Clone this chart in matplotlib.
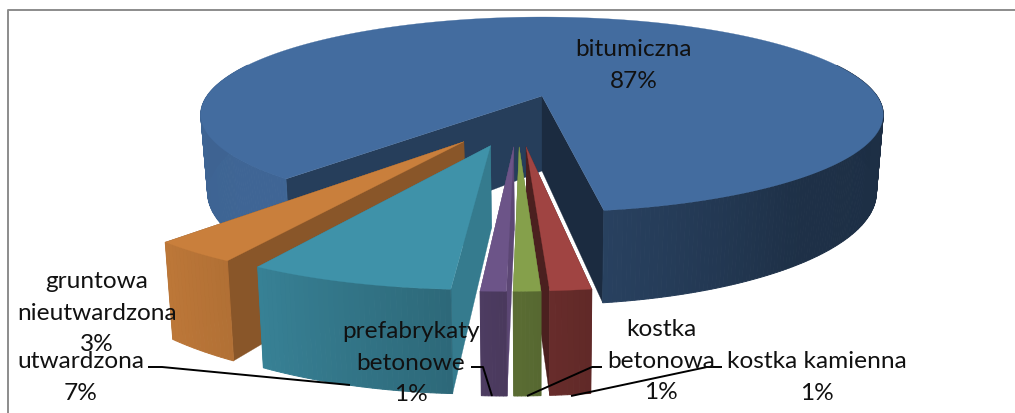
"""Exploded 3D pie chart of road surface types, drawn on a pixel-sized axes."""

import numpy as np
import matplotlib
matplotlib.use("Agg")
import matplotlib.pyplot as plt
from matplotlib.patches import Polygon

plt.rcParams["font.family"] = ["Lato", "DejaVu Sans"]

# ── Data (clockwise, starting with the largest slice) ─────────────────────────
categories = ["bitumiczna", "kostka kamienna", "kostka betonowa",
              "prefabrykaty betonowe", "utwardzona", "gruntowa nieutwardzona"]
values = [86.5, 1.45, 0.95, 0.9, 7.3, 3.2]
percent_labels = ["87%", "1%", "1%", "1%", "7%", "3%"]

# ── Projection of the pie ─────────────────────────────────────────────────────
START_ANGLE = 220.9
EXPLODE = 0.25
CX, CY = 542, 97     # where the tip of the first slice lands
RX, RY = 335, 94
PERSP = 0.19
DEPTH = 75
BOTTOM_SCALE = 0.98

TOP_COLORS = ["#436C9F", "#A04442", "#85A04B", "#6C5488", "#3F92A9", "#C97F3C"]
# shade of the cut faces at the start and end edge of every slice
START_SHADE = [0.57, 0.45, 0.70, 0.85, 0.84, 0.68]
END_SHADE = [0.40, 0.47, 0.70, 0.85, 0.84, 0.68]
DRAW_ORDER = [0, 5, 4, 3, 1, 2]

# shade of the outer rim as a function of the angle
RIM_ANGLES = [90, 140, 171, 180, 184, 209, 221, 270, 360]
RIM_SHADES = [0.42, 0.45, 0.60, 0.68, 0.72, 0.88, 0.94, 0.92, 0.92]


def ground(theta_deg, radius=1.0):
    t = np.radians(theta_deg)
    return radius * np.sin(t), radius * np.cos(t)


def top_xy(x, y):
    w = 1 + PERSP * y
    return CX + RX * x / w, CY - RY * y / w


def bottom_xy(x, y):
    w = 1 + PERSP * y
    return CX + BOTTOM_SCALE * RX * x / w, CY - RY * y / w + DEPTH / w


def shaded(color, factor):
    rgb = np.array(matplotlib.colors.to_rgb(color))
    return tuple(rgb * factor)


def add_poly(ax, pts, color, lw=0.7):
    ax.add_patch(Polygon(pts, closed=True, facecolor=color, edgecolor=color,
                         linewidth=lw, zorder=ax.next_z()))


fig = plt.figure(figsize=(10.15, 4.14), dpi=100)
ax = fig.add_axes([0, 0, 1, 1])
ax.set_xlim(0, 1015)
ax.set_ylim(414, 0)
ax.axis("off")

counter = iter(range(1, 100000))
ax.next_z = lambda: 1 + next(counter) * 1e-4

# ── Slices ────────────────────────────────────────────────────────────────────
spans = np.array(values) / sum(values) * 360
starts = START_ANGLE + np.concatenate([[0], np.cumsum(spans)[:-1]])
first_mid = ground(starts[0] + spans[0] / 2, EXPLODE)

for i in DRAW_ORDER:
    a0, a1 = starts[i], starts[i] + spans[i]
    mid = ground((a0 + a1) / 2, EXPLODE)
    ox, oy = mid[0] - first_mid[0], mid[1] - first_mid[1]
    color = TOP_COLORS[i]

    angles = np.linspace(a0, a1, max(int(spans[i] * 1.5), 8))
    rim = [(ox + ground(a)[0], oy + ground(a)[1]) for a in angles]

    # cut faces
    for (px, py), shade in ((rim[0], START_SHADE[i]), (rim[-1], END_SHADE[i])):
        add_poly(ax, [top_xy(ox, oy), top_xy(px, py),
                      bottom_xy(px, py), bottom_xy(ox, oy)], shaded(color, shade), lw=0.2)

    # outer rim, cut in strips for the gradient
    for k in range(len(rim) - 1):
        p, q = rim[k], rim[k + 1]
        if 0.5 * (p[1] + q[1]) - oy > 0.35:
            continue
        ang = (0.5 * (angles[k] + angles[k + 1])) % 360
        f = np.interp(ang, RIM_ANGLES, RIM_SHADES)
        add_poly(ax, [top_xy(*p), top_xy(*q), bottom_xy(*q), bottom_xy(*p)],
                 shaded(color, f))

    # top surface
    add_poly(ax, [top_xy(ox, oy)] + [top_xy(*p) for p in rim], color, lw=0.2)

# ── Frame ─────────────────────────────────────────────────────────────────────
ax.plot([8, 8, 1015], [414, 11, 11], color="#8C8C8C", lw=1.4, zorder=5)

# ── Labels and leader lines ───────────────────────────────────────────────────
leaders = [
    ([148, 162, 350], [368, 368, 386]),
    ([471, 483, 492], [368, 368, 397]),
    ([602, 592, 527], [368, 368, 397]),
    ([722, 707, 571], [368, 368, 397]),
]
for xs, ys in leaders:
    ax.plot(xs, ys, color="black", lw=1.4, zorder=6, solid_capstyle="butt")

label_lines = [
    ["bitumiczna", percent_labels[0]],
    ["kostka kamienna", percent_labels[1]],
    ["kostka", "betonowa", percent_labels[2]],
    ["prefabrykaty", "betonowe", percent_labels[3]],
    ["utwardzona", percent_labels[4]],
    ["gruntowa", "nieutwardzona", percent_labels[5]],
]
label_pos = [(634, 50), (817, 362), (661, 330), (411, 332), (81, 362), (97, 282)]
for lines, (x, y) in zip(label_lines, label_pos):
    for n, line in enumerate(lines):
        ax.text(x, y + n * 31.5, line, ha="center", va="center",
                fontsize=17.6, color="#111111", zorder=7)

fig.savefig("out.png", dpi=100, facecolor="white")
plt.close(fig)
